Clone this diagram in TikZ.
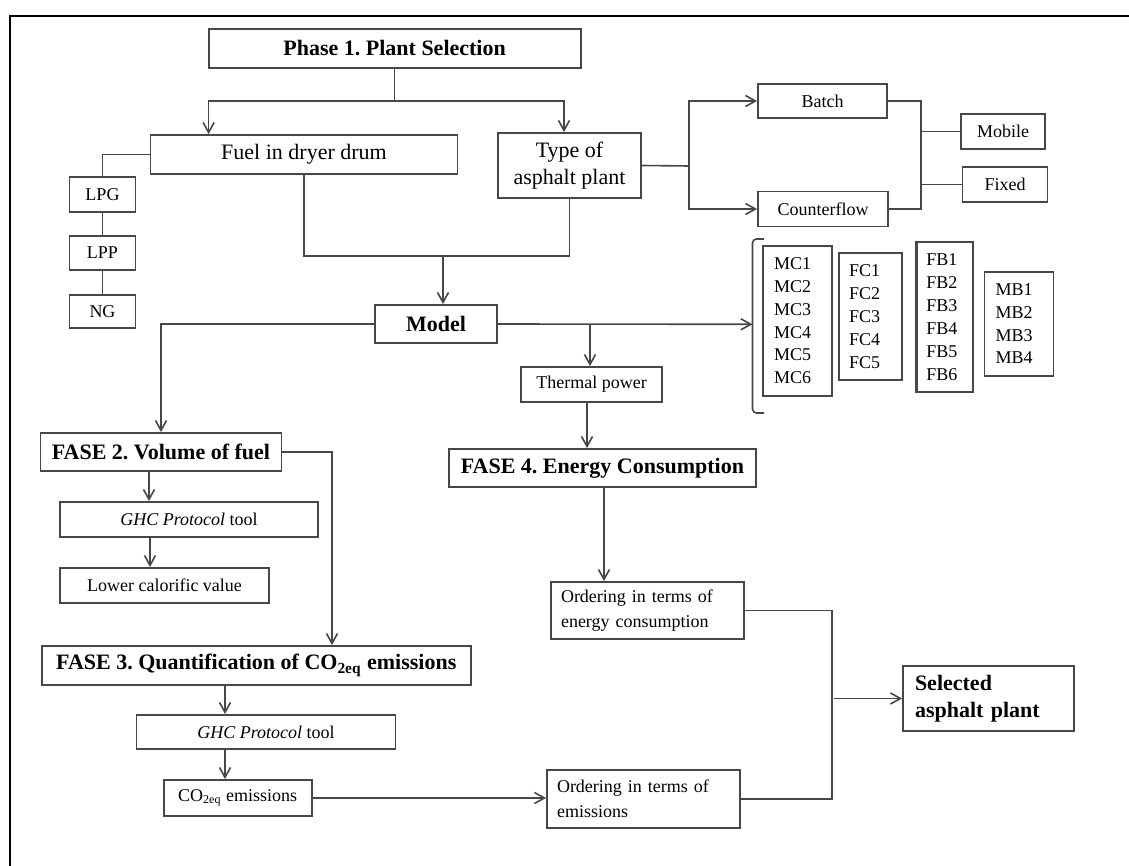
\documentclass[tikz,border=0pt]{standalone}
\usepackage{fontspec}
\setmainfont{Liberation Serif}
\usetikzlibrary{arrows.meta, positioning, calc}
\frenchspacing

\begin{document}
\begin{tikzpicture}[
  x=0.5pt, y=-0.5pt,
  line/.style={draw=black!72, line width=0.8pt},
  box/.style={line, line width=0.9pt, inner sep=0pt, align=center, font=\fontsize{9}{12.3}\selectfont},
  title/.style={box, font=\fontsize{11}{13.3}\selectfont\bfseries},
  list/.style={box, align=left, inner xsep=5.5pt, font=\fontsize{9}{11.45}\selectfont},
  arr/.style={line, -{Straight Barb[length=5pt,width=5.5pt]}}
]
  \useasboundingbox (0,0) rectangle (1129,866);
  % frame
  \draw[line width=1.3pt] (1129,16) -- (10,16) -- (10,866);

  % phase 1
  \node[title, minimum width=186pt, minimum height=19.5pt] (P1) at (394.6,48.5) {Phase 1. Plant Selection};
  \node[title, font=\fontsize{11}{13.3}\selectfont, minimum width=153.5pt, minimum height=19.5pt] (Fuel) at (304,154.5) {Fuel in dryer drum};
  \node[title, font=\fontsize{11}{13.3}\selectfont, minimum width=71.5pt, minimum height=32.5pt] (Type) at (569.5,165.5) {Type of\\asphalt plant};
  \node[box, minimum width=33pt, minimum height=17.5pt] (LPG) at (102.5,194.5) {LPG};
  \node[box, minimum width=33pt, minimum height=17pt] (LPP) at (102.5,253) {LPP};
  \node[box, minimum width=33pt, minimum height=16.5pt] (NG) at (102.5,311.5) {NG};
  \node[box, minimum width=64.5pt, minimum height=17pt] (Batch) at (822.5,101) {Batch};
  \node[box, minimum width=65pt, minimum height=17.5pt] (Counter) at (823,209) {Counterflow};
  \node[box, minimum width=42pt, minimum height=17.5pt] (Mobile) at (1003,131.5) {Mobile};
  \node[box, minimum width=42.5pt, minimum height=17.5pt] (Fixed) at (1005,184.5) {Fixed};

  % model and plant codes
  \node[title, minimum width=61pt, minimum height=19pt] (Model) at (436,324) {Model};
  \node[list, text width=23.5pt, minimum height=75pt] (MC) at (797.5,320.7) {MC1\\MC2\\MC3\\MC4\\MC5\\MC6};
  \node[list, inner xsep=5pt, text width=21.5pt, minimum height=63.5pt] (FC) at (870.5,316.7) {FC1\\FC2\\FC3\\FC4\\FC5};
  \node[list, inner xsep=5pt, line width=1.1pt, text width=18.25pt, minimum height=75pt] (FB) at (944.7,317.3) {FB1\\FB2\\FB3\\FB4\\FB5\\FB6};
  \node[list, text width=23.5pt, minimum height=52pt] (MB) at (1019,323.7) {MB1\\MB2\\MB3\\MB4};
  \coordinate (Brk) at (752.5,324.3);
  \draw[line, rounded corners=2pt] (764,239) -- (752.5,239) -- (752.5,413) -- (764,413);

  % phase 4
  \node[box, minimum width=70.5pt, minimum height=17.5pt] (Thermal) at (591.5,384.5) {Thermal power};
  \node[title, minimum width=153.5pt, minimum height=19pt] (F4) at (602.5,468) {FASE 4. Energy Consumption};
  \node[box, align=left, inner xsep=5pt, text width=86.5pt, minimum height=28.5pt] (OrdE) at (647.5,610.5) {Ordering in terms of\\energy consumption};

  % phases 2 and 3
  \node[title, minimum width=120.5pt, minimum height=19pt] (F2) at (161,452) {FASE 2. Volume of fuel};
  \node[box, minimum width=129pt, minimum height=17.5pt] (Ghc1) at (189,519.5) {\textit{GHC Protocol} tool};
  \node[box, minimum width=104.5pt, minimum height=17.5pt] (Lcv) at (164.5,585.5) {Lower calorific value};
  \node[title, minimum width=214.5pt, minimum height=19.5pt] (F3) at (256.3,665.5) {FASE 3. Quantification of CO\textsubscript{2eq} emissions};
  \node[box, minimum width=129.5pt, minimum height=17pt] (Ghc2) at (266,732) {\textit{GHC Protocol} tool};
  \node[box, minimum width=74pt, minimum height=18pt] (Co2) at (237.6,798) {CO\textsubscript{2eq} emissions};
  \node[box, align=left, inner xsep=5pt, text width=86.5pt, minimum height=29pt] (OrdC) at (643.5,799) {Ordering in terms of\\emissions};
  \node[title, align=left, inner xsep=6pt, text width=73.5pt, minimum height=32.5pt] (Sel) at (988.5,698.5) {Selected\\asphalt plant};

  % connectors
  \coordinate (TopSplit) at (394.6,101);
  \draw[line] (P1.south) -- (TopSplit);
  \draw[arr] (TopSplit) -| (208.6,0 |- Fuel.north);
  \draw[arr] (TopSplit) -| (564,0 |- Type.north);
  \draw[line] (Fuel.west) -| (LPG.north);
  \draw[line] (LPG) -- (LPP) -- (NG);
  \coordinate (Merge) at (443,256);
  \draw[line] (Fuel.south) |- (Merge) -| (Type.south);
  \draw[arr] (Merge) -- (Merge |- Model.north);
  \coordinate (TypeSplit) at (689,166);
  \draw[line] (Type.east) -- (TypeSplit);
  \draw[arr] (TypeSplit) |- (Batch.west);
  \draw[arr] (TypeSplit) |- (Counter.west);
  \draw[line] (Batch.east) -| (921,0 |- Counter.east) -- (Counter.east);
  \draw[line] (Mobile.west) -- (921,0 |- Mobile.west);
  \draw[line] (Fixed.west) -- (921,0 |- Fixed.west);
  \draw[arr] (Model.west) -| (F2.north);
  \draw[arr] (Model.east) -- (Brk);
  \draw[arr] (590,0 |- Model.east) -- (590,0 |- Thermal.north);
  \draw[arr] (587,0 |- Thermal.south) -- (587,0 |- F4.north);
  \draw[arr] (604,0 |- F4.south) -- (604,0 |- OrdE.north);
  \draw[arr] (F2.east) -| (332,0 |- F3.north);
  \draw[arr] (149,0 |- F2.south) -- (149,0 |- Ghc1.north);
  \draw[arr] (150,0 |- Ghc1.south) -- (150,0 |- Lcv.north);
  \draw[arr] (225,0 |- F3.south) -- (225,0 |- Ghc2.north);
  \draw[arr] (225,0 |- Ghc2.south) -- (225,0 |- Co2.north);
  \draw[arr] (Co2.east) -- (Co2.east -| OrdC.west);
  \draw[line] (OrdE.east) -| (832,0 |- OrdC.east) -- (OrdC.east);
  \draw[arr] (834,0 |- Sel.west) -- (Sel.west);
\end{tikzpicture}
\end{document}
